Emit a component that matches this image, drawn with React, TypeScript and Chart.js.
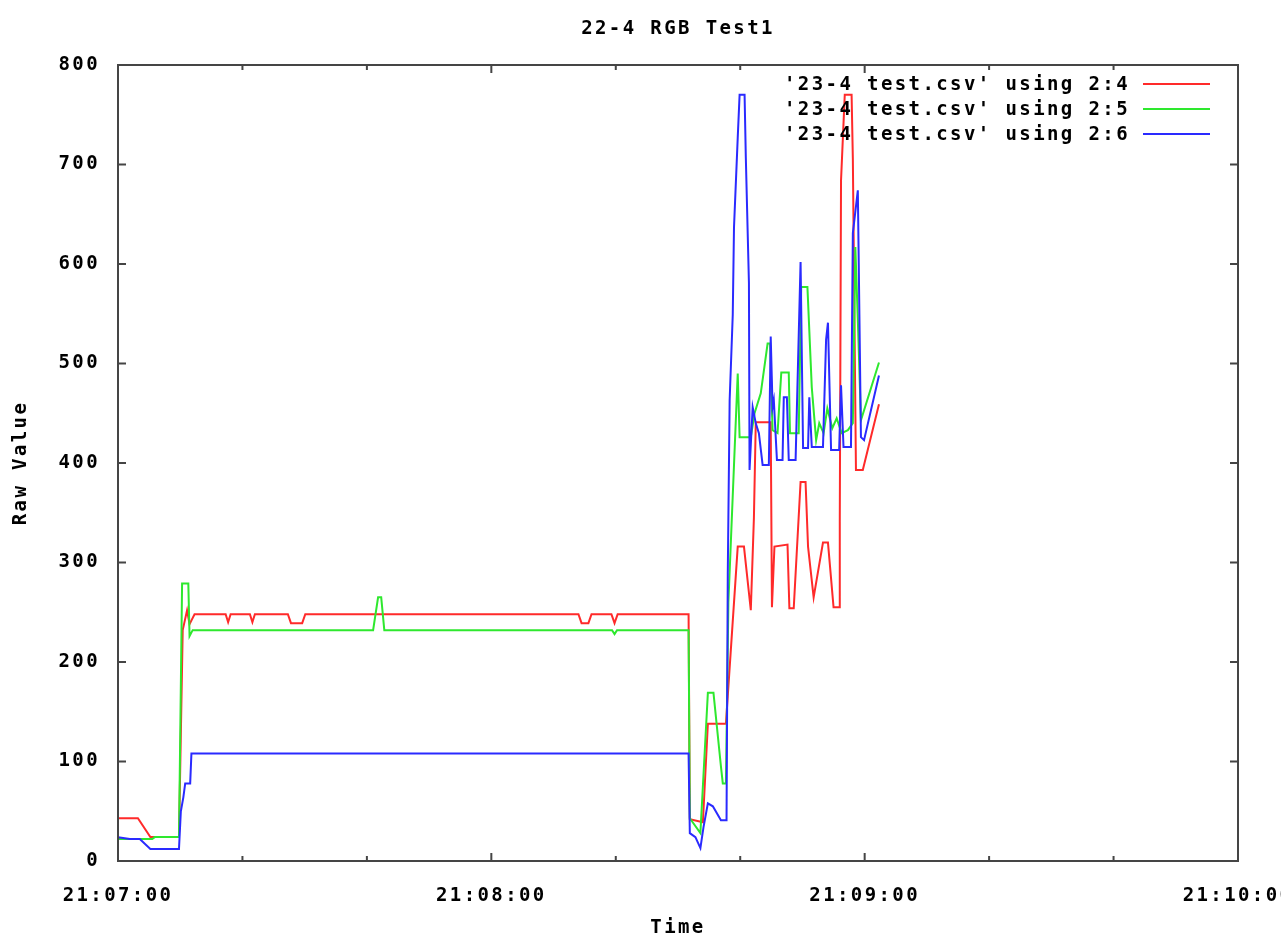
import { useEffect, useRef } from 'react';
import { Chart, registerables } from 'chart.js';

Chart.register(...registerables);

const FONT = '"DejaVu Sans Mono", monospace';
const SPACING = '2.4px';
const FONT_SIZE = 19;

const chartTitle = '22-4 RGB Test1';
const xTitle = 'Time';
const yTitle = 'Raw Value';
const seriesLabels = [
  "'23-4 test.csv' using 2:4",
  "'23-4 test.csv' using 2:5",
  "'23-4 test.csv' using 2:6",
];
const seriesColors = ['#ff2a2a', '#2ee82e', '#2a2aff'];

// seconds after 21:07:00
const redTimes = [0, 3.2, 5.2, 9.8, 10.4, 11.1, 11.5, 12.3, 17.3, 17.7, 18.1, 21.2, 21.6, 22.0, 27.3, 27.8, 29.6, 30.1, 74.0, 74.5, 75.6, 76.1, 79.3, 79.8, 80.3, 91.7, 91.9, 94.0, 94.8, 97.7, 99.6, 100.6, 101.7, 102.2, 102.5, 104.9, 105.1, 105.5, 107.6, 107.9, 108.6, 109.7, 110.5, 110.9, 111.8, 113.3, 114.1, 115.0, 115.9, 116.0, 116.2, 116.8, 117.9, 118.1, 118.3, 118.6, 119.7, 122.3];
const redValues = [43, 43, 24, 24, 232, 252, 238, 248, 248, 240, 248, 248, 240, 248, 248, 239, 239, 248, 248, 239, 239, 248, 248, 239, 248, 248, 42, 39, 138, 138, 316, 316, 252, 345, 441, 441, 255, 316, 318, 254, 254, 381, 381, 316, 265, 320, 320, 255, 255, 341, 684, 770, 770, 706, 582, 393, 393, 459];

const greenTimes = [0, 5.5, 5.9, 9.8, 10.3, 11.3, 11.5, 12.0, 41.0, 41.8, 42.3, 42.8, 79.4, 79.8, 80.2, 91.7, 91.9, 93.6, 94.8, 95.7, 96.9, 97.2, 97.7, 98.1, 99.6, 99.9, 101.7, 102.3, 103.3, 104.4, 104.8, 105.2, 106.0, 106.6, 107.8, 108.0, 109.4, 109.8, 110.8, 111.5, 112.2, 112.7, 113.4, 114.0, 114.8, 115.5, 116.3, 117.3, 118.1, 118.5, 118.9, 119.4, 122.3];
const greenValues = [22, 22, 24, 24, 279, 279, 226, 232, 232, 265, 265, 232, 232, 228, 232, 232, 43, 28, 169, 169, 95, 78, 78, 260, 490, 426, 426, 450, 470, 520, 520, 433, 430, 491, 491, 430, 430, 577, 577, 476, 423, 440, 430, 455, 435, 445, 430, 433, 440, 617, 544, 443, 501];

const blueTimes = [0, 1.9, 3.5, 5.2, 9.8, 10.1, 10.5, 10.8, 11.6, 11.8, 91.7, 91.9, 92.8, 93.6, 94.1, 94.8, 95.6, 96.9, 97.8, 98.0, 98.3, 98.8, 99.0, 99.6, 99.9, 100.7, 100.9, 101.4, 101.5, 102.0, 102.5, 103.0, 103.6, 104.6, 104.9, 105.2, 105.4, 105.9, 106.8, 107.0, 107.5, 107.8, 108.9, 109.3, 109.7, 110.1, 110.9, 111.1, 111.5, 113.3, 113.8, 114.1, 114.6, 115.9, 116.2, 116.6, 117.8, 118.1, 118.9, 119.4, 119.9, 122.3];
const blueValues = [24, 22, 22, 12, 12, 50, 64, 78, 78, 108, 108, 28, 24, 13, 34, 58, 55, 41, 41, 289, 463, 549, 637, 727, 770, 770, 707, 581, 393, 456, 440, 430, 398, 398, 527, 456, 463, 403, 403, 466, 466, 403, 403, 503, 602, 415, 415, 466, 416, 416, 524, 541, 413, 413, 478, 416, 416, 631, 674, 426, 423, 488];

const xMin = 0;
const xMax = 180;
const xStep = 20;
const xLabelEvery = 60;
const yMin = 0;
const yMax = 800;
const yStep = 100;

const toPoints = (ts: number[], vs: number[]) => ts.map((t, i) => ({ x: t, y: vs[i] }));

const fmtTime = (sec: number) => {
  const m = 7 + Math.round(sec / 60);
  return `21:${String(m).padStart(2, '0')}:00`;
};

const spacingPlugin = {
  id: 'spacing',
  beforeUpdate(chart: any) { chart.ctx.letterSpacing = SPACING; },
  beforeDraw(chart: any) { chart.ctx.letterSpacing = SPACING; },
};

const framePlugin = {
  id: 'frame',
  afterDatasetsDraw(chart: any) {
    const { ctx, chartArea: a, scales } = chart;
    ctx.save();
    ctx.strokeStyle = '#454545';
    ctx.lineWidth = 2;
    ctx.strokeRect(a.left, a.top, a.right - a.left, a.bottom - a.top);
    ctx.beginPath();
    for (let v = yMin; v <= yMax; v += yStep) {
      const y = scales.y.getPixelForValue(v);
      ctx.moveTo(a.left, y); ctx.lineTo(a.left + 8, y);
      ctx.moveTo(a.right, y); ctx.lineTo(a.right - 8, y);
    }
    for (let t = xMin; t <= xMax; t += xStep) {
      const x = scales.x.getPixelForValue(t);
      const len = t % xLabelEvery === 0 ? 8 : 5;
      ctx.moveTo(x, a.bottom); ctx.lineTo(x, a.bottom - len);
      ctx.moveTo(x, a.top); ctx.lineTo(x, a.top + len);
    }
    ctx.stroke();

    // legend (gnuplot style: text right-aligned, sample line to the right)
    ctx.font = `bold ${FONT_SIZE}px ${FONT}`;
    ctx.letterSpacing = SPACING;
    ctx.textAlign = 'right';
    ctx.textBaseline = 'middle';
    chart.data.datasets.forEach((ds: any, i: number) => {
      const y = a.top + 19 + i * 25;
      ctx.fillStyle = '#000';
      ctx.fillText(ds.label, a.right - 108, y + 1);
      ctx.strokeStyle = ds.borderColor;
      ctx.lineWidth = 2;
      ctx.beginPath();
      ctx.moveTo(a.right - 95, y);
      ctx.lineTo(a.right - 28, y);
      ctx.stroke();
    });
    ctx.restore();
  },
};

export default function App() {
  const ref = useRef<HTMLCanvasElement>(null);
  useEffect(() => {
    const font = { family: FONT, size: FONT_SIZE, weight: 'bold' as const, lineHeight: 1.2 };
    const chart = new Chart(ref.current!, {
      type: 'line',
      data: {
        datasets: [
          { label: seriesLabels[0], data: toPoints(redTimes, redValues), borderColor: seriesColors[0], order: 3 },
          { label: seriesLabels[1], data: toPoints(greenTimes, greenValues), borderColor: seriesColors[1], order: 2 },
          { label: seriesLabels[2], data: toPoints(blueTimes, blueValues), borderColor: seriesColors[2], order: 1 },
        ].map((d) => ({ ...d, borderWidth: 2, pointRadius: 0, tension: 0, fill: false })),
      },
      options: {
        responsive: false,
        animation: false,
        events: [],
        layout: { padding: { left: 0, right: 43, top: 0, bottom: 0 } },
        plugins: {
          legend: { display: false },
          tooltip: { enabled: false },
          title: {
            display: true,
            text: chartTitle,
            fullSize: false,
            color: '#000',
            font,
            padding: { top: 18, bottom: 24.2 },
          },
        },
        scales: {
          x: {
            type: 'linear',
            min: xMin,
            max: xMax,
            afterFit(s: any) { s.height = 75; s.paddingLeft = 0; s.paddingRight = 0; },
            ticks: {
              stepSize: xStep,
              autoSkip: false,
              maxRotation: 0,
              padding: 24,
              color: '#000',
              font,
              callback: (v: any) => (Number(v) % xLabelEvery === 0 ? fmtTime(Number(v)) : ''),
            },
            grid: { display: false, drawTicks: false },
            border: { display: false },
            title: { display: true, text: xTitle, color: '#000', font, padding: { top: 0, bottom: -3 } },
          },
          y: {
            min: yMin,
            max: yMax,
            afterFit(s: any) { s.width = 118; },
            ticks: { stepSize: yStep, padding: 18, color: '#000', font },
            grid: { display: false, drawTicks: false },
            border: { display: false },
            title: { display: true, text: yTitle, color: '#000', font, padding: { top: 10, bottom: 0 } },
          },
        },
      },
      plugins: [spacingPlugin, framePlugin],
    });
    return () => chart.destroy();
  }, []);
  return (
    <div style={{ position: 'absolute', left: 0, top: 0, width: 1281, height: 936, background: '#fff' }}>
      <canvas ref={ref} width={1281} height={936} style={{ display: 'block' }} />
    </div>
  );
}
